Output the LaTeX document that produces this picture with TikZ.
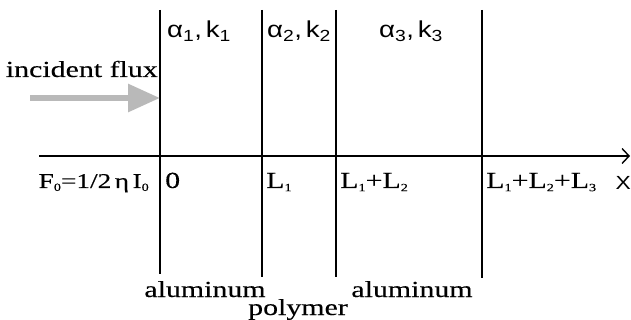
\documentclass[tikz,border=0pt]{standalone}
\usepackage{fontspec}
\setmainfont{Liberation Serif}
\setsansfont[FakeStretch=1.2]{Liberation Sans}
\newfontfamily\wideserif[FakeStretch=1.3, FakeBold=0.3]{Liberation Serif}
\newcommand\lowsub[1]{\raisebox{-0.3ex}{\fontsize{11}{12}\selectfont #1}}
\usetikzlibrary{arrows.meta, positioning}

\begin{document}
\begin{tikzpicture}[
  x=1pt, y=-1pt,
  boundary/.style={line width=1.2pt},
  axis/.style={line width=1.2pt, -{Straight Barb[length=7pt, width=15pt, line width=1.4pt]}},
  flux/.style={line width=6pt, gray!55, -{Triangle[length=32pt, width=27pt]}},
  greek/.style={font=\sffamily\fontsize{23}{26}\selectfont, inner sep=0pt},
  serif/.style={font=\wideserif\fontsize{23}{27}\selectfont, inner sep=0pt},
  coordlabel/.style={serif, anchor=base west}
]
\useasboundingbox (0,0) rectangle (631,320);

% layer boundaries
\foreach \x/\n/\b in {160/0/274, 262/1/277, 336/2/277, 482/3/278} {
  \coordinate (top\n) at (\x,10);
  \coordinate (bot\n) at (\x,\b);
  \draw[boundary] (top\n) -- (bot\n);
}

% x axis
\coordinate (axstart) at (39,156);
\coordinate (axend) at (630,156);
\draw[axis] (axstart) -- (axend);
\node[greek, font=\sffamily\fontsize{19}{22}\selectfont, anchor=base east] (xlab) at (631,190) {X};

% incident flux
\coordinate (fluxstart) at (30,98);
\coordinate (fluxend) at (160,98);
\draw[flux] (fluxstart) -- (fluxend);
\node[serif, anchor=base east] (fluxlab) at (158,77) {incident flux};

% layer parameters
\node[greek, anchor=base] (ak1) at (199,38) {α\textsubscript{1},\,k\textsubscript{1}};
\node[greek, anchor=base] (ak2) at (299,38) {α\textsubscript{2},\,k\textsubscript{2}};
\node[greek, anchor=base] (ak3) at (411,38) {α\textsubscript{3},\,k\textsubscript{3}};

% positions on the axis
\node[serif, font=\wideserif\fontsize{21}{25}\selectfont, anchor=base east] (f0) at (149,188)
  {F\lowsub{0}=1/2\,η\,I\lowsub{0}};
\node[coordlabel] (pos0) at (165,188) {0};
\node[coordlabel] (pos1) at (266,188) {L\lowsub{1}};
\node[coordlabel] (pos2) at (340,188) {L\lowsub{1}+L\lowsub{2}};
\node[coordlabel] (pos3) at (486,188) {L\lowsub{1}+L\lowsub{2}+L\lowsub{3}};

% materials
\node[serif, anchor=base] (mat1) at (205,297) {aluminum};
\node[serif, anchor=base] (mat2) at (298,315) {polymer};
\node[serif, anchor=base] (mat3) at (412,297) {aluminum};
\end{tikzpicture}
\end{document}
